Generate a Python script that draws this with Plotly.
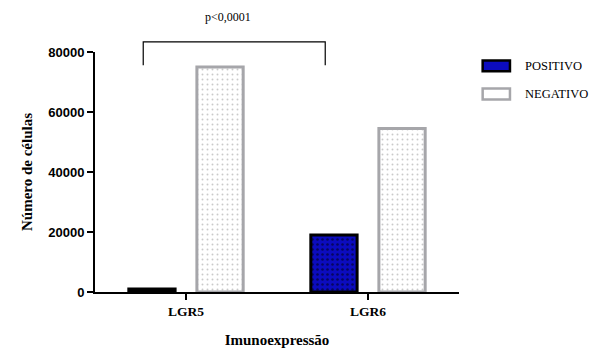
import plotly.graph_objects as go

categories = ["LGR5", "LGR6"]
positivo = [1000, 19000]
negativo = [75000, 54500]
series_names = ["POSITIVO", "NEGATIVO"]
y_ticks = [0, 20000, 40000, 60000, 80000]
y_tick_labels = ["0", "20000", "40000", "60000", "80000"]
p_text = "p<0,0001"

BLUE = "rgb(12,12,190)"
GRAY = "rgb(166,166,170)"

fig = go.Figure()
fig.add_trace(go.Bar(
    x=categories, y=positivo, name=series_names[0],
    marker=dict(color=BLUE, line=dict(color="black", width=3),
                pattern=dict(shape=".", fgcolor="black", bgcolor=BLUE, size=5, solidity=0.2)),
    showlegend=False,
))
fig.add_trace(go.Bar(
    x=categories, y=negativo, name=series_names[1],
    marker=dict(color="white", line=dict(color=GRAY, width=3),
                pattern=dict(shape=".", fgcolor="rgb(150,150,150)", bgcolor="white", size=5, solidity=0.12)),
    showlegend=False,
))

fig.update_layout(
    width=608, height=351,
    margin=dict(l=95, r=149, t=52, b=59),
    paper_bgcolor="white", plot_bgcolor="white",
    barmode="group", bargap=0.252, bargroupgap=0.32,
    font=dict(family="Liberation Serif", color="black"),
)
fig.update_xaxes(
    range=[-0.5, 1.5], showline=True, linecolor="black", linewidth=2,
    ticks="outside", ticklen=6, tickwidth=1.5, tickcolor="black",
    tickfont=dict(family="Liberation Serif", size=13.5, color="black", weight="bold"),
    title=dict(text="<b>Imunoexpressão</b>", font=dict(family="Liberation Serif", size=15), standoff=16),
    showgrid=False, zeroline=False, automargin=False,
)
fig.update_yaxes(
    range=[0, 80000], showline=True, linecolor="black", linewidth=2,
    tickvals=y_ticks, ticktext=y_tick_labels,
    ticks="outside", ticklen=6, tickwidth=1.5, tickcolor="black",
    tickfont=dict(family="Liberation Sans", size=13, color="black", weight="bold"),
    title=dict(text="<b>Número de células</b>", font=dict(family="Liberation Serif", size=15), standoff=12),
    showgrid=False, zeroline=False, automargin=False,
)

# significance bracket
fig.add_shape(type="path", xref="x", yref="paper",
              path="M -0.235 0.945 L -0.235 1.042 L 0.765 1.042 L 0.765 0.945",
              line=dict(color="black", width=1.2))
fig.add_annotation(text=p_text, xref="x", yref="paper", x=0.23, y=1.145, yanchor="middle",
                   showarrow=False, font=dict(family="Liberation Serif", size=12, color="black"))

# custom legend
fig.add_shape(type="rect", xref="paper", yref="paper", x0=1.065, x1=1.14, y0=0.92, y1=0.965,
              fillcolor=BLUE, line=dict(color="black", width=2.5))
fig.add_shape(type="rect", xref="paper", yref="paper", x0=1.065, x1=1.14, y0=0.802, y1=0.848,
              fillcolor="white", line=dict(color=GRAY, width=2.5))
fig.add_annotation(text=series_names[0], xref="paper", yref="paper", x=1.176, y=0.9425,
                   xanchor="left", yanchor="middle",
                   showarrow=False, font=dict(family="Liberation Serif", size=12.5, color="black"))
fig.add_annotation(text=series_names[1], xref="paper", yref="paper", x=1.176, y=0.825,
                   xanchor="left", yanchor="middle",
                   showarrow=False, font=dict(family="Liberation Serif", size=12.5, color="black"))

fig.write_html("out.html")
